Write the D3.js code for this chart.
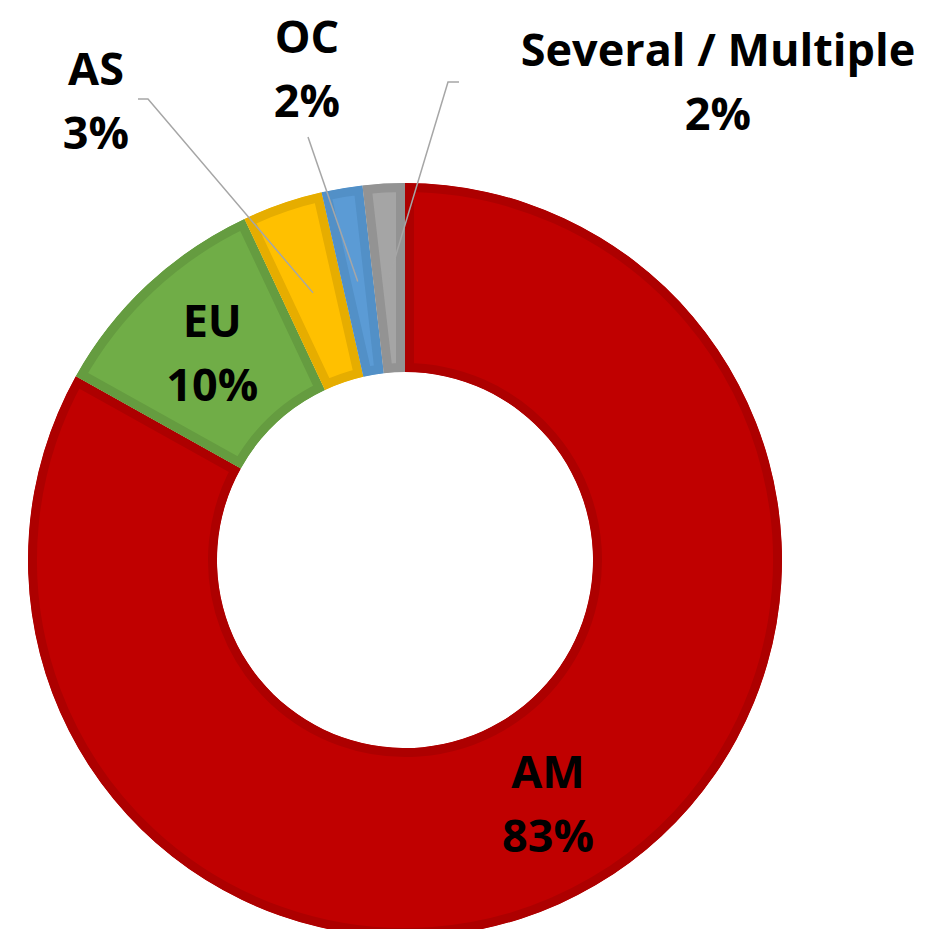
<!DOCTYPE html>
<html lang="en">
<head>
    <meta charset="UTF-8">
    <script src="https://d3js.org/d3.v7.min.js"></script>
    <title>Share by region</title>
    <style>
        body { margin: 0; background: #fff; }
        .lbl { font-family: "Open Sans", sans-serif; font-weight: 700; font-size: 45px; fill: #000; }
    </style>
</head>
<body>
    <svg width="931" height="929"></svg>

    <script>
        // data (share in %)
        var regions = ["AM", "EU", "AS", "OC", "Several / Multiple"];
        var shares = [83.1, 9.9, 3.45, 1.75, 1.8];
        var fills = ["#C00000", "#70AD47", "#FFC000", "#5B9BD5", "#A5A5A5"];
        var borders = ["#AD0000", "#659C40", "#E6AD00", "#5290C7", "#939393"];

        // where the small slices got their labels dragged to (text centre, first baseline)
        var outside = {
            "AS": { x: 96, y: 85, from: [138, 99], elbow: [148, 99] },
            "OC": { x: 307, y: 53, from: [308, 137], elbow: null },
            "Several / Multiple": { x: 718, y: 66, from: [459, 82], elbow: [448, 82] }
        };

        var svg = d3.select("svg"),
            cx = 405, cy = 560,
            outerR = 377, innerR = 188,
            lineH = 64;

        var g = svg.append("g").attr("transform", "translate(" + cx + "," + cy + ")");

        var pie = d3.pie().sort(null).value(d => d.v);
        var arc = d3.arc().innerRadius(innerR).outerRadius(outerR);

        var rows = regions.map((r, i) => ({ name: r, v: shares[i], fill: fills[i], border: borders[i] }));
        var arcs = pie(rows);

        var defs = svg.append("defs");
        defs.selectAll("clipPath")
            .data(arcs)
            .enter().append("clipPath")
            .attr("id", (d, i) => "clip" + i)
            .append("path")
            .attr("d", arc);

        // fill, then a thick border clipped to the slice so it only shows inside
        g.selectAll(".slice")
            .data(arcs)
            .enter().append("path")
            .attr("class", "slice")
            .attr("d", arc)
            .attr("fill", d => d.data.fill)
            .attr("stroke", d => d.data.border)
            .attr("stroke-width", 18)
            .attr("stroke-linejoin", "miter")
            .attr("clip-path", (d, i) => "url(#clip" + i + ")");

        // leader lines for the labels that sit outside
        var lines = svg.append("g");
        arcs.forEach(function (d) {
            var o = outside[d.data.name];
            if (!o) return;
            var c = arc.centroid(d);
            var pts = [o.from];
            if (o.elbow) pts.push(o.elbow);
            pts.push([cx + c[0], cy + c[1]]);
            lines.append("path")
                .attr("d", d3.line()(pts))
                .attr("fill", "none")
                .attr("stroke", "#A6A6A6")
                .attr("stroke-width", 1.5);
        });

        // labels
        arcs.forEach(function (d) {
            var o = outside[d.data.name];
            var x, y;
            if (o) {
                x = o.x; y = o.y;
            } else {
                var c = arc.centroid(d);
                x = cx + c[0];
                y = cy + c[1] - lineH / 2 + 16;
            }
            var t = svg.append("text")
                .attr("class", "lbl")
                .attr("text-anchor", "middle")
                .attr("x", x)
                .attr("y", y);
            t.append("tspan").attr("x", x).text(d.data.name);
            t.append("tspan").attr("x", x).attr("dy", lineH).text(Math.round(d.data.v) + "%");
        });
    </script>
</body>
</html>
